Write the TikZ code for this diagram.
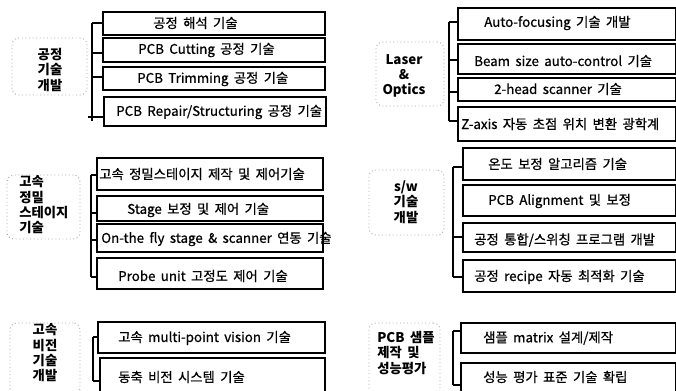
\documentclass[tikz,border=0pt]{standalone}
\usepackage{fontspec}
\setmainfont{Noto Sans CJK KR}[WordSpace=1.8]
\newfontfamily\boxfont{Noto Sans CJK KR}[WordSpace=1.8, FakeBold=0.7]
\usetikzlibrary{fit}
\tikzset{
  boxst/.style={draw=black, line width=1.2pt, inner sep=0pt},
  txt/.style={anchor=west, inner sep=0pt, font=\boxfont\fontsize{10}{12}\selectfont},
  catbox/.style={draw=gray!70, dotted, line width=0.7pt, rounded corners=5pt, inner sep=0pt},
  cattxt/.style={inner sep=0pt, font=\fontsize{10}{11.5}\selectfont\bfseries},
  brk/.style={line width=1pt}
}
\begin{document}
\begin{tikzpicture}[x=0.75pt,y=-0.75pt]
\useasboundingbox (0,0) rectangle (676,390);
\clip (0,0) rectangle (676,390);

% ---------- group 1: 공정 기술 개발 ----------
\node[catbox, fit={(12,38) (87,95)}] (c1) {};
\node[cattxt, align=center] (c1t) at (50,70) {공정\\기술\\개발};
\node[boxst, fit={(103,12) (325,35)}] (a1) {};
\node[boxst, fit={(103,38) (325,62)}] (a2) {};
\node[boxst, fit={(103,67) (325,90)}] (a3) {};
\node[boxst, fit={(104,97) (326,126)}] (a4) {};
\node[txt] (a1t) at (153,23) {공정 해석 기술};
\node[txt] (a2t) at (138,50) {PCB Cutting 공정 기술};
\node[txt] (a3t) at (137,79) {PCB Trimming 공정 기술};
\node[txt] (a4t) at (116,112) {PCB Repair/Structuring 공정 기술};
\coordinate (p1) at (92,23); \coordinate (p2) at (92,53);
\coordinate (p3) at (92,77); \coordinate (p4) at (92,117);
\coordinate (p5) at (92,121);
\draw[brk] (p1) -- (p5);
\draw[brk] (p1) -- (p1 -| a1.west);
\draw[brk] (p2) -- (p2 -| a2.west);
\draw[brk] (p3) -- (p3 -| a3.west);
\draw[brk] (88,117) -- (p4 -| a4.west);

% ---------- group 2: Laser & Optics ----------
\node[catbox, fit={(376,42) (444,106)}] (c2) {};
\node[cattxt, align=center] (c2t) at (404,76) {Laser\\\&\\Optics};
\node[boxst, fit={(458,8) (676,40)}] (b1) {};
\node[boxst, fit={(458,44) (676,74)}] (b2) {};
\node[boxst, fit={(458,78) (676,101)}] (b3) {};
\node[boxst, fit={(458,107) (676,141)}] (b4) {};
\node[txt] (b1t) at (484,23) {Auto-focusing 기술 개발};
\node[txt] (b2t) at (474,61) {Beam size auto-control 기술};
\node[txt] (b3t) at (494,89) {2-head scanner 기술};
\node[txt] (b4t) at (461,124) {Z-axis 자동 초점 위치 변환 광학계};
\coordinate (q1) at (449,22); \coordinate (q2) at (449,60);
\coordinate (q3) at (449,92); \coordinate (q4) at (449,121);
\draw[brk] (q1) -- (q4);
\draw[brk] (q1) -- (q1 -| b1.west);
\draw[brk] (q2) -- (q2 -| b2.west);
\draw[brk] (q3) -- (q3 -| b3.west);
\draw[brk] (q4) -- (q4 -| b4.west);

% ---------- group 3: 고속 정밀 스테이지 기술 ----------
\node[catbox, fit={(7,175) (80,239)}] (c3) {};
\node[cattxt, align=left, anchor=west] (c3t) at (19,205) {고속\\정밀\\스테이지\\기술};
\node[boxst, fit={(97,158) (323,190)}] (d1) {};
\node[boxst, fit={(97,196) (323,221)}] (d2) {};
\node[boxst, fit={(97,224) (323,252)}] (d3) {};
\node[boxst, fit={(97,258) (323,289)}] (d4) {};
\node[txt] (d1t) at (99,174) {고속 정밀스테이지 제작 및 제어기술};
\node[txt] (d2t) at (127,210) {Stage 보정 및 제어 기술};
\node[txt] (d3t) at (101,239) {On-the fly stage \& scanner 연동 기술};
\node[txt] (d4t) at (118,276) {Probe unit 고정도 제어 기술};
\coordinate (r1) at (91,175); \coordinate (r2) at (91,213);
\coordinate (r3) at (91,240); \coordinate (r4) at (91,277);
\draw[brk] (r1) -- (r4);
\draw[brk] (r1) -- (r1 -| d1.west);
\draw[brk] (r2) -- (r2 -| d2.west);
\draw[brk] (r3) -- (r3 -| d3.west);
\draw[brk] (r4) -- (r4 -| d4.west);

% ---------- group 4: s/w 기술 개발 ----------
\node[catbox, fit={(369,170) (444,235)}] (c4) {};
\node[cattxt, align=center] (c4t) at (406,202) {s/w\\기술\\개발};
\node[boxst, fit={(463,148) (676,180)}] (e1) {};
\node[boxst, fit={(463,185) (676,216)}] (e2) {};
\node[boxst, fit={(463,223) (676,252)}] (e3) {};
\node[boxst, fit={(463,260) (676,292)}] (e4) {};
\node[txt] (e1t) at (488,164) {온도 보정 알고리즘 기술};
\node[txt] (e2t) at (488,201) {PCB Alignment 및 보정};
\node[txt] (e3t) at (474,240) {공정 통합/스위칭 프로그램 개발};
\node[txt] (e4t) at (474,277) {공정 recipe 자동 최적화 기술};
\coordinate (s1) at (453,167); \coordinate (s3) at (453,237);
\coordinate (s4) at (453,277);
\draw[brk] (s1) -- (s4);
\draw[brk] (s1) -- (s1 -| e1.west);
\draw[brk] (s3) -- (s3 -| e3.west);
\draw[brk] (s4) -- (s4 -| e4.west);

% ---------- group 5: 고속 비전 기술 개발 ----------
\node[catbox, fit={(10,323) (80,395)}] (c5) {};
\node[cattxt, align=center] (c5t) at (45,353) {고속\\비전\\기술\\개발};
\node[boxst, fit={(98,322) (325,353)}] (f1) {};
\node[boxst, fit={(100,358) (325,396)}] (f2) {};
\node[txt] (f1t) at (118,338) {고속 multi-point vision 기술};
\node[txt] (f2t) at (118,377) {동축 비전 시스템 기술};
\coordinate (u1) at (93,337); \coordinate (u2) at (93,381);
\draw[brk] (u1) -- (u2);
\draw[brk] (u1) -- (u1 -| f1.west);
\draw[brk] (u2) -- (u2 -| f2.west);

% ---------- group 6: PCB 샘플 제작 및 성능평가 ----------
\node[catbox, fit={(369,323) (440,395)}] (c6) {};
\node[cattxt, align=left, anchor=west] (c6t) at (377,353) {PCB 샘플\\제작 및\\성능평가};
\node[boxst, fit={(461,323) (676,353)}] (g1) {};
\node[boxst, fit={(461,363) (676,396)}] (g2) {};
\node[txt] (g1t) at (483,338) {샘플 matrix 설계/제작};
\node[txt] (g2t) at (483,377) {성능 평가 표준 기술 확립};
\coordinate (v1) at (453,331); \coordinate (v2) at (453,385);
\draw[brk] (v1) -- (v2);
\draw[brk] (v1) -- (v1 -| g1.west);
\draw[brk] (v2) -- (v2 -| g2.west);
\end{tikzpicture}
\end{document}
